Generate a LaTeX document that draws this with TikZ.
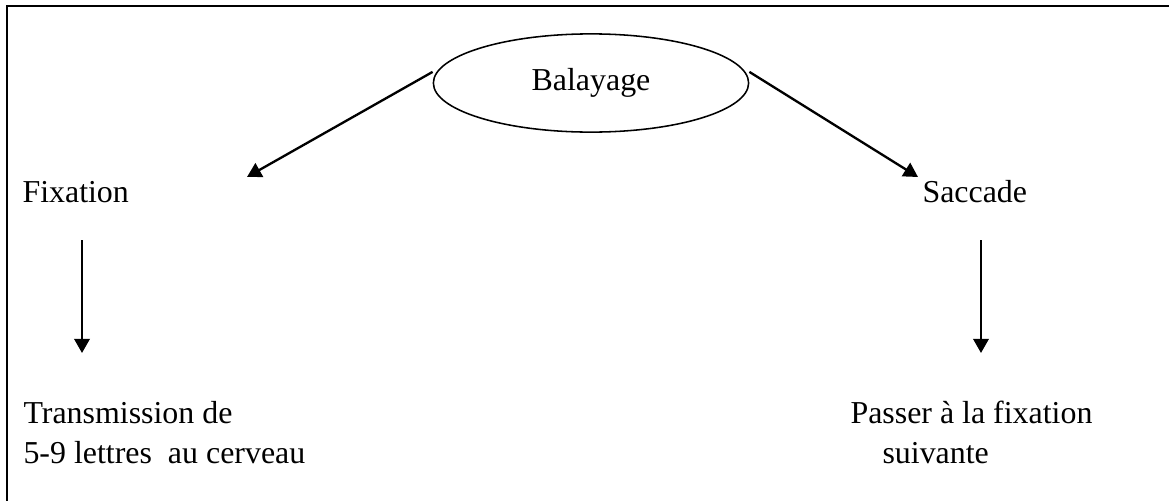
\documentclass[tikz,border=0pt]{standalone}
\usepackage{fontspec}
\setmainfont{Liberation Serif}
\usetikzlibrary{arrows.meta,shapes.geometric}

\begin{document}
\begin{tikzpicture}[x=0.387pt, y=-0.387pt,
  font=\fontsize{12.35}{14}\selectfont,
  txt/.style={anchor=base west, inner sep=0pt},
  arr/.style={-{Triangle[length=5.5pt,width=6pt]}, line width=0.9pt}]

\useasboundingbox (0,0) rectangle (1169,501);

% Frame (top and left edges)
\draw[line width=1pt] (7,501) -- (7,6) -- (1169,6);

% Ellipse on top
\node[draw, ellipse, line width=0.6pt, minimum width=122pt, minimum height=38pt, inner sep=0pt] (bal) at (591,83) {Balayage};

% Left column
\node[txt] (fix) at (22,202) {Fixation};
\node[txt] (trans) at (23,423) {Transmission de};
\node[txt] (lettres) at (23,463) {5-9 lettres~ au cerveau};

% Right column
\node[txt] (sac) at (922,202) {Saccade};
\node[txt] (passer) at (850,423) {Passer à la fixation};
\node[txt] (suiv) at (882,463) {suivante};

% Arrow ends
\coordinate (fixtip) at (247,177);
\coordinate (sactip) at (918,177);
\coordinate (fixtop) at (82,240);
\coordinate (fixbot) at (82,353);
\coordinate (sactop) at (981,240);
\coordinate (sacbot) at (981,353);

% Arrows
\draw[arr] ([yshift=4.3pt]bal.west) -- (fixtip);
\draw[arr] ([yshift=4.3pt]bal.east) -- (sactip);
\draw[arr] (fixtop) -- (fixbot);
\draw[arr] (sactop) -- (sacbot);

\end{tikzpicture}
\end{document}
